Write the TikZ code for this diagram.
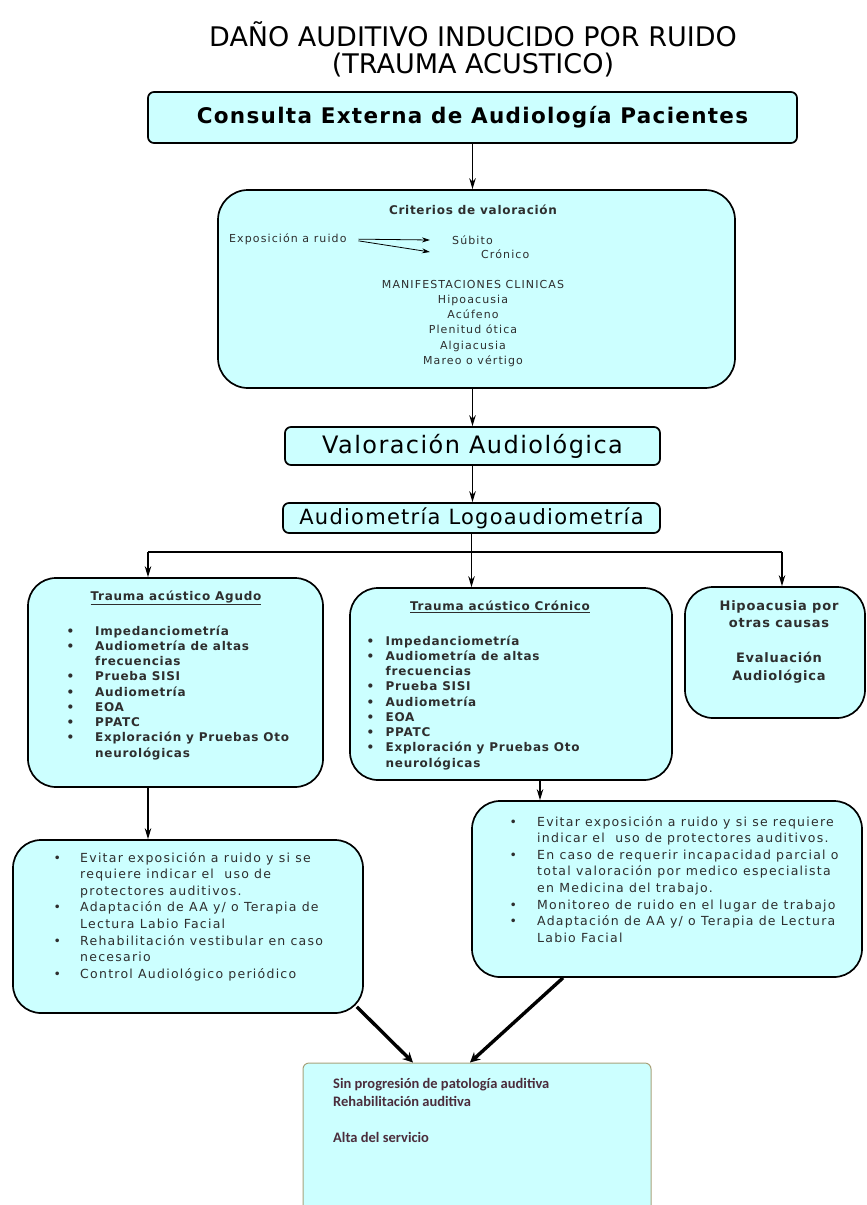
\documentclass[tikz,border=0pt]{standalone}
\usepackage{fontspec}
\setmainfont{DejaVu Sans}
\newfontfamily\tightfont[LetterSpace=6]{DejaVu Sans}
\newfontfamily\widefont[LetterSpace=10]{DejaVu Sans}
\newfontfamily\calfont{Carlito}
\usetikzlibrary{arrows.meta,calc}
\definecolor{boxfill}{HTML}{CCFFFF}
\definecolor{textgray}{HTML}{2E2E2E}
\definecolor{altaline}{HTML}{A8A27A}
\definecolor{altatext}{HTML}{4B2D3C}
\newcommand\sz[2]{\fontsize{#1}{#2}\selectfont}
\begin{document}
\begin{tikzpicture}[x=1pt,y=1pt,
  box/.style={draw,line width=1.7pt,fill=boxfill,rounded corners=#1,inner sep=0pt},
  box/.default=6pt,
  txt/.style={inner sep=0pt,text=textgray},
  arr/.style={line width=1.3pt,-{Stealth[length=11pt,width=6.5pt]}},
  smallarr/.style={line width=0.8pt,-{Stealth[length=8pt,width=5pt]}},
  thickarr/.style={line width=3.4pt,-{Stealth[length=10pt,width=10pt]}}]
  \useasboundingbox (0,0) rectangle (867,-1205);

  \node[inner sep=0pt,anchor=base,font=\sz{27}{27}] (title1) at (473,-46) {DAÑO AUDITIVO INDUCIDO POR RUIDO};
  \node[inner sep=0pt,anchor=base,font=\sz{27}{27}] (title2) at (473,-73) {(TRAUMA ACUSTICO)};

  \node[box,minimum width=649pt,minimum height=51pt,font=\tightfont\bfseries\sz{21.5}{24}] (cons) at (472.5,-117.5) {Consulta Externa de Audiología Pacientes};

  \node[box=30pt,minimum width=517pt,minimum height=198pt] (crit) at (476.5,-289) {};
  \node[txt,font=\tightfont\bfseries\sz{12}{14}] (crittit) at (473,-210) {Criterios de valoración};
  \node[txt,anchor=west,font=\widefont\sz{11}{14}] (expo) at (229,-239) {Exposición a ruido};
  \node[txt,anchor=west,font=\widefont\sz{11}{14}] (subito) at (452,-240) {Súbito};
  \node[txt,anchor=west,font=\widefont\sz{11}{14}] (cronico) at (481,-254) {Crónico};
  \coordinate (subtip) at (430,-240);
  \coordinate (crotip) at (430,-252);
  \draw[smallarr,shorten <=12pt] (expo.east) -- (subtip);
  \draw[smallarr,shorten <=12pt] (expo.east) -- (crotip);
  \node[txt,anchor=north,align=center,font=\widefont\sz{11}{15.2}] (manif) at (473,-280) {MANIFESTACIONES CLINICAS\\Hipoacusia\\Acúfeno\\Plenitud ótica\\Algiacusia\\Mareo o vértigo};

  \node[box,minimum width=375pt,minimum height=38pt,font=\tightfont\sz{24}{26}] (valor) at (472.5,-446) {Valoración Audiológica};
  \node[box,minimum width=377pt,minimum height=30pt,font=\tightfont\sz{21}{23}] (audio) at (471.5,-518) {Audiometría Logoaudiometría};

  \node[box=28pt,minimum width=295pt,minimum height=209pt] (agudo) at (175.5,-682.5) {};
  \node[txt,font=\tightfont\bfseries\sz{12}{14}] (agudotit) at (176,-598) {\underline{Trauma acústico Agudo}};
  \node[txt,anchor=base west,font=\tightfont\bfseries\sz{12}{15.25}] (agudolist) at (66.5,-635) {\begin{tabular}[t]{@{}p{28.5pt}@{}l@{}}
    •&Impedanciometría\\ •&Audiometría de altas\\ &frecuencias\\ •&Prueba SISI\\ •&Audiometría\\
    •&EOA\\ •&PPATC\\ •&Exploración y Pruebas Oto\\ &neurológicas\end{tabular}};

  \node[box=28pt,minimum width=322pt,minimum height=192pt] (cron) at (511,-684) {};
  \node[txt,font=\tightfont\bfseries\sz{12}{14}] (crontit) at (500,-607) {\underline{Trauma acústico Crónico}};
  \node[txt,anchor=base west,font=\tightfont\bfseries\sz{12}{15.25}] (cronlist) at (366.5,-645) {\begin{tabular}[t]{@{}p{19pt}@{}l@{}}
    •&Impedanciometría\\ •&Audiometría de altas\\ &frecuencias\\ •&Prueba SISI\\ •&Audiometría\\
    •&EOA\\ •&PPATC\\ •&Exploración y Pruebas Oto\\ &neurológicas\end{tabular}};

  \node[box=28pt,minimum width=180pt,minimum height=131pt] (otras) at (775,-652.5) {};
  \node[txt,anchor=north,align=center,font=\tightfont\bfseries\sz{13}{17.5}] (otrastxt) at (779,-600) {Hipoacusia por\\otras causas\\[17.5pt]Evaluación\\Audiológica};

  \node[box=28pt,minimum width=350pt,minimum height=173pt] (lowL) at (188,-926.5) {};
  \node[txt,anchor=base west,font=\widefont\sz{12.5}{16.6}] (lowLlist) at (53.5,-862) {\begin{tabular}[t]{@{}p{26.5pt}@{}l@{}}
    •&Evitar exposición a ruido y si se\\ &requiere indicar el \ uso de\\ &protectores auditivos.\\
    •&Adaptación de AA y/ o Terapia de\\ &Lectura Labio Facial\\
    •&Rehabilitación vestibular en caso\\ &necesario\\ •&Control Audiológico periódico\end{tabular}};

  \node[box=28pt,minimum width=390pt,minimum height=176pt] (lowR) at (667,-889) {};
  \node[txt,anchor=base west,font=\widefont\sz{12.5}{16.6}] (lowRlist) at (509.5,-826) {\begin{tabular}[t]{@{}p{27.5pt}@{}l@{}}
    •&Evitar exposición a ruido y si se requiere\\ &indicar el \ uso de protectores auditivos.\\
    •&En caso de requerir incapacidad parcial o\\ &total valoración por medico especialista\\ &en Medicina del trabajo.\\
    •&Monitoreo de ruido en el lugar de trabajo\\ •&Adaptación de AA y/ o Terapia de Lectura\\ &Labio Facial\end{tabular}};

  \node[draw=altaline,line width=1pt,fill=boxfill,rounded corners=6pt,inner sep=0pt,minimum width=348pt,minimum height=150pt] (alta) at (477,-1138) {};
  \node[anchor=base west,inner sep=0pt,text=altatext,font=\calfont\bfseries\sz{14.5}{18}] (altatxt) at (333,-1088) {\begin{tabular}[t]{@{}l@{}}
    Sin progresión de patología auditiva\\ Rehabilitación auditiva\\[18pt] Alta del servicio\end{tabular}};

  \coordinate (splitL) at (148,-552);
  \coordinate (splitR) at (782,-552);
  \coordinate (cronout) at (540,-780);

  \draw[arr] (cons.south) -- (cons.south |- crit.north);
  \draw[arr] (cons.south |- crit.south) -- (valor.north);
  \draw[arr] (valor.south) -- (valor.south |- audio.north);
  \draw[line width=1.4pt] (audio.south) -- (audio.south |- splitL);
  \draw[line width=1.4pt] (splitL) -- (splitR);
  \draw[arr] (splitL) -- (splitL |- agudo.north);
  \draw[arr] (audio.south |- splitL) -- (audio.south |- cron.north);
  \draw[arr] (splitR) -- (splitR |- otras.north);
  \draw[arr] (splitL |- agudo.south) -- (splitL |- lowL.north);
  \draw[arr] (cronout) -- (cronout |- lowR.north);
  \draw[thickarr] ($(lowL.south east)+(-7,7)$) -- ([xshift=-64pt]alta.north);
  \draw[thickarr] ([xshift=-104pt]lowR.south) -- ([xshift=-7pt]alta.north);
\end{tikzpicture}
\end{document}
